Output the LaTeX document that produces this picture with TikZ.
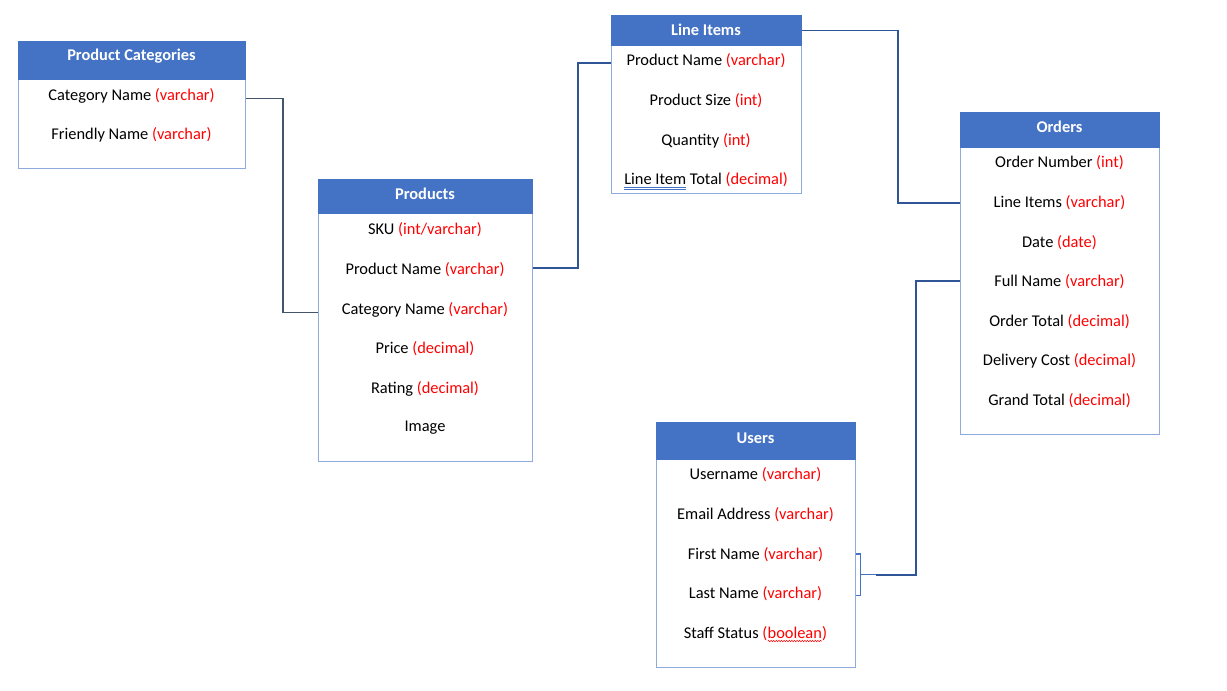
\documentclass[tikz,border=0pt]{standalone}
\usepackage{fontspec}
\setmainfont{Carlito}
\usetikzlibrary{decorations.pathmorphing}
\definecolor{hdrblue}{HTML}{4472C4}
\definecolor{bordblue}{HTML}{8FAADC}
\definecolor{typered}{HTML}{FF0000}
\definecolor{connblue}{HTML}{2F5597}
\definecolor{conngray}{HTML}{44546A}
\definecolor{ulblue}{HTML}{4472C4}
\newcommand\ty[1]{{\color{typered}(#1)}}
\newcommand\dblul[1]{\setbox0=\hbox{#1}\leavevmode\rlap{\color{ulblue}\rule[-2.6pt]{\wd0}{0.7pt}}\rlap{\color{ulblue}\rule[-4.8pt]{\wd0}{0.7pt}}\box0\relax}
\newcommand\wavyul[1]{\tikz[baseline=(w.base)]{\node[inner sep=0pt,outer sep=0pt,draw=none,fill=none,anchor=center,text=typered](w){#1};\draw[typered,line width=0.5pt,decorate,decoration={snake,amplitude=0.7pt,segment length=2.6pt}]([yshift=-3pt]w.base west)--([yshift=-3pt]w.base east);}}
\begin{document}
\begin{tikzpicture}[x=1pt,y=-1pt,
  font=\fontsize{16.4}{19}\selectfont,
  tbody/.style={draw=bordblue,line width=0.9pt,fill=white,anchor=north west,inner sep=0pt},
  hdr/.style={fill=hdrblue,draw=hdrblue,line width=0.9pt,anchor=north west,inner sep=0pt},
  title/.style={text=white,font=\fontsize{16.4}{19}\selectfont\bfseries,inner sep=0pt},
  row/.style={inner sep=0pt,text=black},
  conn/.style={draw=connblue,line width=1.8pt},
  conng/.style={draw=conngray,line width=1.8pt},
  brk/.style={draw=hdrblue,line width=1.1pt}]
\useasboundingbox (0,0) rectangle (1227,691);
\fill[white] (0,0) rectangle (1227,691);

% Product Categories
\node[tbody,minimum width=227pt,minimum height=127pt] (pcbody) at (18,41) {};
\node[hdr,minimum width=227pt,minimum height=38pt] (pchdr) at (18,41) {};
\node[title] (pct) at (131.5,56) {Product Categories};
\node[row] (pc1) at (131.5,96) {Category Name \ty{varchar}};
\node[row] (pc2) at (131.5,135) {Friendly Name \ty{varchar}};

% Products
\node[tbody,minimum width=214pt,minimum height=282pt] (prbody) at (318,179) {};
\node[hdr,minimum width=214pt,minimum height=34pt] (prhdr) at (318,179) {};
\node[title] (prt) at (425,194) {Products};
\node[row] (pr1) at (425,230) {SKU \ty{int/varchar}};
\node[row] (pr2) at (425,270) {Product Name \ty{varchar}};
\node[row] (pr3) at (425,310) {Category Name \ty{varchar}};
\node[row] (pr4) at (425,349) {Price \ty{decimal}};
\node[row] (pr5) at (425,389) {Rating \ty{decimal}};
\node[row] (pr6) at (425,428) {Image};

% Line Items
\node[tbody,minimum width=190pt,minimum height=178pt] (libody) at (611,15) {};
\node[hdr,minimum width=190pt,minimum height=30pt] (lihdr) at (611,15) {};
\node[title] (lit) at (706,30) {Line Items};
\node[row] (li1) at (706,61) {Product Name \ty{varchar}};
\node[row] (li2) at (706,101) {Product Size \ty{int}};
\node[row] (li3) at (706,141) {Quantity \ty{int}};
\node[row] (li4) at (706,181) {\dblul{Line Item} Total \ty{decimal}};

% Orders
\node[tbody,minimum width=199pt,minimum height=322pt] (orbody) at (960,112) {};
\node[hdr,minimum width=199pt,minimum height=35pt] (orhdr) at (960,112) {};
\node[title] (ort) at (1059.5,127) {Orders};
\node[row] (or1) at (1059.5,163) {Order Number \ty{int}};
\node[row] (or2) at (1059.5,203) {Line Items \ty{varchar}};
\node[row] (or3) at (1059.5,243) {Date \ty{date}};
\node[row] (or4) at (1059.5,282) {Full Name \ty{varchar}};
\node[row] (or5) at (1059.5,322) {Order Total \ty{decimal}};
\node[row] (or6) at (1059.5,361) {Delivery Cost \ty{decimal}};
\node[row] (or7) at (1059.5,401) {Grand Total \ty{decimal}};

% Users
\node[tbody,minimum width=199pt,minimum height=245pt] (usbody) at (656,422) {};
\node[hdr,minimum width=199pt,minimum height=37pt] (ushdr) at (656,422) {};
\node[title] (ust) at (755.5,438) {Users};
\node[row] (us1) at (755.5,475) {Username \ty{varchar}};
\node[row] (us2) at (755.5,515) {Email Address \ty{varchar}};
\node[row] (us3) at (755.5,555) {First Name \ty{varchar}};
\node[row] (us4) at (755.5,594) {Last Name \ty{varchar}};
\node[row] (us5) at (755.5,634) {Staff Status {\color{typered}(\wavyul{boolean})}};

% Connectors
\draw[conng] ([yshift=2pt]pcbody.east |- pc1.base) -- ++(37,0) |- ([yshift=2pt]prbody.west |- pr3.base);
\draw[conn] ([yshift=2pt]prbody.east |- pr2) -- ++(45,0) |- ([yshift=3pt]libody.west |- li1.base);
\draw[conn] (lihdr.east) -- ++(96,0) |- (orbody.west |- or2);
\draw[brk] ([yshift=1pt]usbody.east |- us3) -- ++(5,0) -- ([xshift=5pt,yshift=3pt]usbody.east |- us4.base) coordinate (bb) -- ([yshift=3pt]usbody.east |- us4.base);
\draw[brk] ([xshift=5pt,yshift=1pt]usbody.east |- us3) -- coordinate (bm) (bb);
\draw[brk] (bm) -- ++(15,0) coordinate (bj);
\draw[conn] (bj) -- ++(40,0) |- ([yshift=1pt]orbody.west |- or4);
\end{tikzpicture}
\end{document}
